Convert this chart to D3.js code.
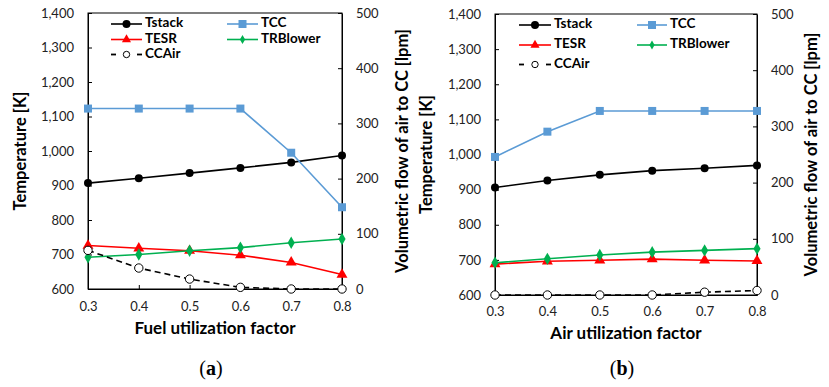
<!DOCTYPE html>
<html>
<head>
<meta charset="utf-8">
<script src="https://cdn.jsdelivr.net/npm/d3@7"></script>
<style>
  html, body { margin: 0; padding: 0; background: #fff; }
  svg { display: block; }
</style>
</head>
<body>
<svg id="chart" width="829" height="387"></svg>
<script>
// ---------- data ----------
const xValues = [0.3, 0.4, 0.5, 0.6, 0.7, 0.8];
const xTicks = [0.3, 0.4, 0.5, 0.6, 0.7, 0.8];
const tempTicks = [600, 700, 800, 900, 1000, 1100, 1200, 1300, 1400];
const flowTicks = [0, 100, 200, 300, 400, 500];
const seriesNames = ["Tstack", "TCC", "TESR", "TRBlower", "CCAir"];

// panel (a): fuel utilization factor
const tstackA   = [907, 921, 936, 951, 967, 987];
const tccA      = [1123, 1123, 1123, 1123, 995, 837];
const tesrA     = [726, 718, 711, 698, 677, 642];
const trblowerA = [692, 700, 711, 720, 734, 745];
const ccairA    = [70, 38, 18, 3, 0, 0];

// panel (b): air utilization factor
const tstackB   = [906, 926, 942, 954, 961, 969];
const tccB      = [993, 1065, 1124, 1124, 1124, 1124];
const tesrB     = [688, 696, 699, 702, 699, 697];
const trblowerB = [692, 703, 714, 722, 727, 732];
const ccairB    = [0, 0, 0, 0, 5, 8];

const panelTitles = ["Fuel utilization factor", "Air utilization factor"];
const panelLabels = ["(a)", "(b)"];
const yLeftTitle = "Temperature [K]";
const yRightTitle = "Volumetric flow of air to CC [lpm]";

// ---------- styles ----------
const FONT = "Lato, 'Open Sans', sans-serif";
const colors = { Tstack: "#000000", TCC: "#5B9BD5", TESR: "#FF0000", TRBlower: "#00B050", CCAir: "#000000" };

const svg = d3.select("#chart");

const panels = [
  { box: { l: 88, r: 342, t: 13, b: 289 }, data: [tstackA, tccA, tesrA, trblowerA, ccairA],
    title: panelTitles[0], label: panelLabels[0], leftTitleX: 22, rightTitleX: 404,
    xTickY: 308, xTitleY: 330, labelX: 211, legendRows: [24, 39.5, 54.5],
    legendCols: [[111, 142, 145], [227, 258, 261]] },
  { box: { l: 495, r: 757, t: 14, b: 295 }, data: [tstackB, tccB, tesrB, trblowerB, ccairB],
    title: panelTitles[1], label: panelLabels[1], leftTitleX: 428, rightTitleX: 813,
    xTickY: 313, xTitleY: 335, labelX: 622, legendRows: [25, 45, 64.5],
    legendCols: [[519, 551, 554], [637, 667, 670]] }
];

function drawMarker(g, type, x, y, legend) {
  if (type === "Tstack") {
    g.append("circle").attr("cx", x).attr("cy", y).attr("r", 4).attr("fill", colors.Tstack);
  } else if (type === "TCC") {
    g.append("rect").attr("x", x - 4).attr("y", y - 4).attr("width", 8).attr("height", 8).attr("fill", colors.TCC);
  } else if (type === "TESR") {
    g.append("path").attr("d", d3.symbol().type(d3.symbolTriangle).size(legend ? 36 : 52)()).attr("transform", `translate(${x},${y})`).attr("fill", colors.TESR);
  } else if (type === "TRBlower") {
    g.append("path").attr("d", d3.symbol().type(d3.symbolDiamond).size(legend ? 24 : 44)()).attr("transform", `translate(${x},${y})`).attr("fill", colors.TRBlower);
  } else if (type === "CCAir") {
    g.append("circle").attr("cx", x).attr("cy", y).attr("r", legend ? 3.2 : 4.2).attr("fill", "#fff").attr("stroke", "#000").attr("stroke-width", 1);
  }
}

panels.forEach(p => {
  const g = svg.append("g");
  const x = d3.scaleLinear().domain([0.3, 0.8]).range([p.box.l, p.box.r]);
  const yT = d3.scaleLinear().domain([600, 1400]).range([p.box.b, p.box.t]);
  const yF = d3.scaleLinear().domain([0, 500]).range([p.box.b, p.box.t]);

  // frame
  g.append("rect").attr("x", p.box.l).attr("y", p.box.t)
    .attr("width", p.box.r - p.box.l).attr("height", p.box.b - p.box.t)
    .attr("fill", "none").attr("stroke", "#000").attr("stroke-width", 1);

  // axes
  const axL = d3.axisLeft(yT).tickValues(tempTicks).tickFormat(d3.format(",")).tickSizeInner(-4).tickSizeOuter(0).tickPadding(14);
  const axR = d3.axisRight(yF).tickValues(flowTicks).tickSizeInner(-4).tickSizeOuter(0).tickPadding(14);
  const axB = d3.axisBottom(x).tickValues(xTicks).tickFormat(d3.format(".1f")).tickSizeInner(-4).tickSizeOuter(0).tickPadding(14);

  const gL = g.append("g").attr("transform", `translate(${p.box.l},0)`).call(axL);
  const gR = g.append("g").attr("transform", `translate(${p.box.r},0)`).call(axR);
  const gB = g.append("g").attr("transform", `translate(0,${p.box.b})`).call(axB);
  [gL, gR, gB].forEach(a => {
    a.select(".domain").attr("stroke", "#000");
    a.selectAll(".tick line").attr("stroke", "#000");
    a.selectAll(".tick text").attr("font-family", FONT).attr("font-size", 13).attr("fill", "#222");
  });
  gB.selectAll(".tick text").attr("dy", null).attr("y", p.xTickY - p.box.b).attr("dominant-baseline", "middle");

  // series
  const ySc = [yT, yT, yT, yT, yF];
  seriesNames.forEach((name, i) => {
    const vals = p.data[i];
    const line = d3.line().x((d, j) => x(xValues[j])).y(d => ySc[i](d));
    g.append("path").datum(vals).attr("d", line).attr("fill", "none")
      .attr("stroke", colors[name]).attr("stroke-width", 1.6)
      .attr("stroke-dasharray", name === "CCAir" ? "6,4" : null);
    vals.forEach((v, j) => drawMarker(g, name, x(xValues[j]), ySc[i](v), false));
  });

  // legend
  const legendPos = [[0, 0], [0, 1], [1, 0], [1, 1], [2, 0]];
  seriesNames.forEach((name, i) => {
    const [row, col] = legendPos[i];
    const y = p.legendRows[row];
    const [x1, x2, tx] = p.legendCols[col];
    if (name === "CCAir") {
      g.append("line").attr("x1", x1).attr("x2", x1 + 5).attr("y1", y).attr("y2", y).attr("stroke", "#000").attr("stroke-width", 1.8);
      g.append("line").attr("x1", x2 - 5).attr("x2", x2).attr("y1", y).attr("y2", y).attr("stroke", "#000").attr("stroke-width", 1.8);
    } else {
      g.append("line").attr("x1", x1).attr("x2", x2).attr("y1", y).attr("y2", y).attr("stroke", colors[name]).attr("stroke-width", 1.6);
    }
    drawMarker(g, name, (x1 + x2) / 2, y, true);
    g.append("text").attr("x", tx).attr("y", y).attr("dominant-baseline", "middle")
      .attr("font-family", FONT).attr("font-weight", "bold").attr("font-size", 13.5).attr("fill", "#000").text(name);
  });

  // titles
  g.append("text").attr("x", (p.box.l + p.box.r) / 2).attr("y", p.xTitleY).attr("text-anchor", "middle")
    .attr("dominant-baseline", "middle").attr("font-family", FONT).attr("font-weight", "bold").attr("font-size", 17).text(p.title);
  g.append("text").attr("transform", `translate(${p.leftTitleX},${(p.box.t + p.box.b) / 2}) rotate(-90)`)
    .attr("text-anchor", "middle").attr("dominant-baseline", "middle").attr("font-family", FONT).attr("font-weight", "bold").attr("font-size", 16.5).text(yLeftTitle);
  g.append("text").attr("transform", `translate(${p.rightTitleX},${(p.box.t + p.box.b) / 2}) rotate(-90)`)
    .attr("text-anchor", "middle").attr("dominant-baseline", "middle").attr("font-family", FONT).attr("font-weight", "bold").attr("font-size", 16.5).text(yRightTitle);
  const lab = g.append("text").attr("x", p.labelX).attr("y", 370).attr("text-anchor", "middle").attr("dominant-baseline", "middle")
    .attr("font-family", "'Liberation Serif', 'DejaVu Serif', serif").attr("font-size", 20);
  lab.append("tspan").text("(");
  lab.append("tspan").attr("font-weight", "bold").text(p.label.slice(1, -1));
  lab.append("tspan").text(")");
});
</script>
</body>
</html>
